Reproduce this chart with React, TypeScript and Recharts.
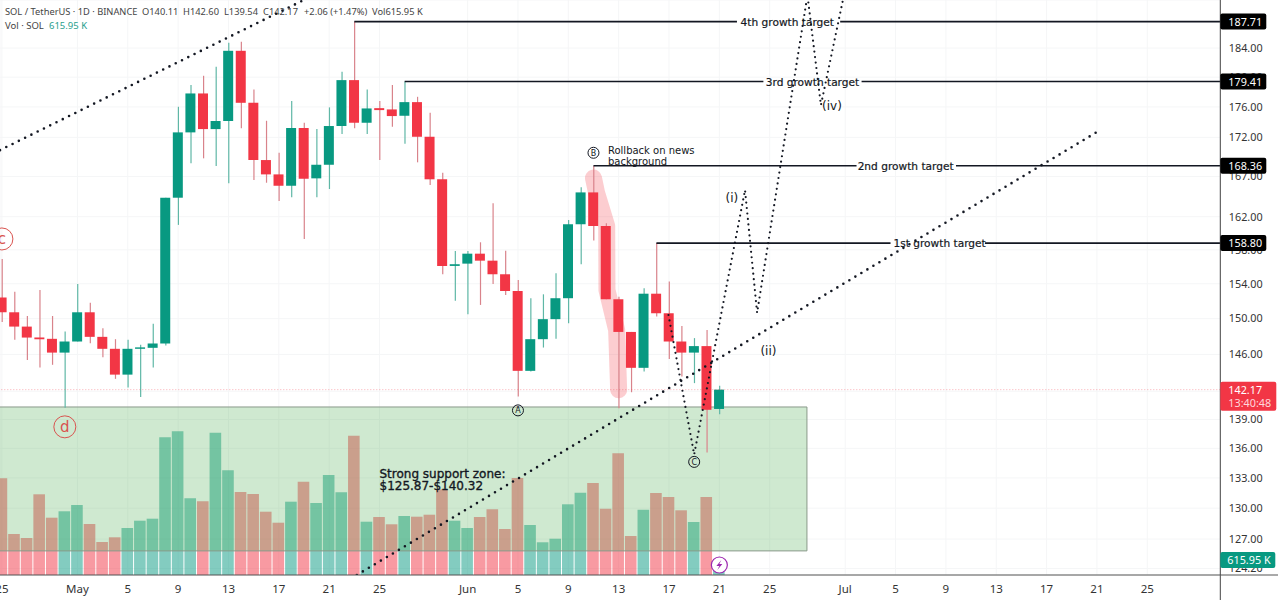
import {
  Bar,
  CartesianGrid,
  Cell,
  ComposedChart,
  Line,
  ReferenceArea,
  ReferenceDot,
  ReferenceLine,
  XAxis,
  YAxis,
} from "recharts";

const UP = "#089981";
const DOWN = "#F23645";
const INK = "#131722";
const FONT = "'DejaVu Sans', sans-serif";
const AXIS_FONT = "'Noto Sans', sans-serif";

// daily candles, first one is Apr 25
const opens = [152.41, 150.72, 149.1, 147.88, 147.73, 146.2, 147.43, 150.72, 147.95, 146.62, 143.79, 146.62, 146.73, 147.21, 164.34, 172.65, 177.8, 173.08, 174.14, 183.62, 176.55, 169.08, 167.26, 165.83, 173.22, 166.76, 168.48, 173.48, 179.6, 173.91, 175.84, 175.67, 174.83, 176.64, 172.08, 166.64, 156.09, 156.36, 157.54, 156.71, 155.11, 153.16, 144.2, 147.69, 149.94, 152.33, 161.08, 165.0, 160.87, 152.21, 148.5, 144.53, 152.85, 150.61, 147.43, 146.2, 146.92, 140.11];
const highs = [156.9, 153.08, 150.3, 153.28, 150.3, 148.54, 153.98, 151.82, 148.92, 147.69, 147.62, 147.06, 149.41, 164.34, 176.02, 178.93, 180.19, 181.41, 184.73, 184.87, 178.34, 174.17, 170.01, 176.78, 173.91, 173.08, 175.94, 180.73, 187.71, 178.34, 176.78, 178.93, 179.41, 177.35, 175.23, 167.47, 157.86, 157.86, 158.9, 163.65, 157.9, 154.44, 152.33, 152.78, 155.22, 161.6, 165.63, 168.36, 161.2, 152.51, 148.5, 153.48, 158.8, 154.25, 149.18, 147.81, 148.73, 142.6];
const lows = [149.63, 147.62, 145.4, 144.56, 144.86, 140.23, 147.43, 147.25, 145.7, 143.33, 142.39, 141.37, 144.56, 146.98, 161.0, 168.66, 169.3, 168.32, 166.13, 173.18, 166.55, 166.21, 163.93, 164.39, 159.3, 164.39, 165.42, 172.43, 173.18, 172.43, 169.08, 173.39, 171.18, 168.79, 165.92, 155.11, 152.05, 150.49, 151.56, 153.98, 152.7, 141.43, 144.12, 146.76, 147.73, 149.49, 156.29, 159.1, 152.21, 140.19, 141.89, 144.12, 150.23, 145.5, 143.58, 142.87, 135.58, 139.54];
const closes = [150.72, 149.1, 147.87, 147.68, 146.2, 147.43, 150.72, 147.95, 146.62, 143.79, 146.62, 146.78, 147.21, 164.34, 172.65, 177.8, 173.08, 174.14, 183.62, 176.55, 169.08, 167.26, 165.83, 173.22, 166.71, 168.48, 173.48, 179.6, 173.91, 175.8, 175.58, 174.79, 176.64, 172.08, 166.64, 156.09, 156.29, 157.54, 156.71, 155.11, 153.16, 144.2, 147.69, 149.94, 152.33, 161.08, 165.0, 160.87, 152.21, 148.5, 144.53, 152.85, 150.61, 147.43, 146.2, 146.92, 140.02, 142.17];
const volumes = [3970, 1684, 1519, 3314, 2353, 2616, 2874, 2094, 1355, 1548, 1930, 2230, 2312, 5654, 5900, 3149, 3026, 5843, 4299, 3408, 3326, 2599, 2147, 3010, 3831, 2956, 4106, 3396, 5720, 2188, 2381, 2082, 2423, 2394, 2476, 3519, 2230, 1930, 2381, 2698, 1889, 3983, 2053, 1343, 1490, 2903, 3379, 3778, 2722, 4997, 1601, 2681, 3367, 3203, 2657, 2176, 3203, 616];

const candles = opens.map((open, i) => ({
  day: i,
  body: [Math.min(open, closes[i]), Math.max(open, closes[i])],
  wick: [lows[i], highs[i]],
  volume: volumes[i],
  up: closes[i] >= open,
}));

const dayTicks = [0, 6, 10, 14, 18, 22, 26, 30, 37, 41, 45, 49, 53, 57, 61, 67, 71, 75, 79, 83, 87, 91];
const dayTickLabels = ["25", "May", "5", "9", "13", "17", "21", "25", "Jun", "5", "9", "13", "17", "21", "25", "Jul", "5", "9", "13", "17", "21", "25"];
const priceTicks = [124.2, 127, 130, 133, 136, 139, 142, 146, 150, 154, 158, 162, 167, 172, 176, 180, 184];

const DAY_DOMAIN = [-0.151, 96.8];
const PRICE_DOMAIN = [123.6, 190.8];
const VOLUME_DOMAIN = [0, 23610];

// drawn tools
const upperTrend = [{ day: -0.15, price: 170.35 }, { day: 27.2, price: 193.7 }];
const supportTrend = [{ day: 28.2, price: 123.6 }, { day: 86.9, price: 172.6 }];
const wave = [
  { day: 52.96, price: 150.41 },
  { day: 55.0, price: 135.38 },
  { day: 59.04, price: 165.29 },
  { day: 60.0, price: 150.65 },
  { day: 64.0, price: 191.5 },
  { day: 65.07, price: 176.24 },
  { day: 66.98, price: 192.2 },
];
const rollbackBrush = [
  { day: 47.0, price: 166.8 },
  { day: 47.25, price: 164.92 },
  { day: 48.05, price: 160.87 },
  { day: 48.07, price: 153.28 },
  { day: 48.84, price: 148.73 },
  { day: 49.0, price: 142.15 },
];

const targets = [
  { price: 187.71, from: 28, gapFrom: 58.4, mid: 62.4, gapTo: 66.6, label: "4th growth target" },
  { price: 179.41, from: 32, gapFrom: 60.5, mid: 64.4, gapTo: 68.3, label: "3rd growth target" },
  { price: 168.36, from: 47, gapFrom: 67.9, mid: 71.8, gapTo: 75.8, label: "2nd growth target" },
  { price: 158.8, from: 52, gapFrom: 70.6, mid: 74.5, gapTo: 78.1, label: "1st growth target" },
];

const redMarks = [
  { day: 0, price: 159.3, label: "c" },
  { day: 5, price: 138.23, label: "d" },
];
const blackMarks = [
  { day: 41, price: 139.96, label: "A" },
  { day: 47, price: 170.01, label: "B" },
  { day: 55, price: 134.62, label: "C" },
];
const waveLabels = [
  { day: 58.0, price: 164.3, label: "(i)" },
  { day: 60.9, price: 146.4, label: "(ii)" },
  { day: 65.95, price: 176.1, label: "(iv)" },
];

const headerItems = [
  { x: 5, text: "SOL / TetherUS · 1D · BINANCE" },
  { x: 142, text: "O140.11" },
  { x: 183, text: "H142.60" },
  { x: 224, text: "L139.54" },
  { x: 263, text: "C142.17" },
  { x: 304, text: "+2.06 (+1.47%)" },
  { x: 372, text: "Vol615.95 K" },
];

const axes = { xAxisId: "main", yAxisId: "price" };
const lineAxes = { xAxisId: "line", yAxisId: "price" };
const TOP = 2000;

const PriceTag = ({ cx, cy, text }: any) => (
  <g>
    <rect x={cx} y={cy - 8} width={46} height={16} rx={2} fill="#000" />
    <text x={cx + 8} y={cy + 4} fontSize={10.8} fill="#fff" fontFamily={AXIS_FONT}>{text}</text>
  </g>
);

const CircleMark = ({ cx, cy, r, color, label, size }: any) => (
  <g>
    <circle cx={cx} cy={cy} r={r} fill="none" stroke={color} strokeWidth={1} />
    <text x={cx} y={cy + size * 0.36} textAnchor="middle" fontSize={size} fill={color} fontFamily={FONT}>{label}</text>
  </g>
);

const Note = ({ cx, cy, lines, size, lineHeight, heavy }: any) => (
  <g>
    {lines.map((line: string, i: number) => (
      <text key={line} x={cx} y={cy + i * lineHeight} fontSize={size} fill={INK} stroke={heavy ? INK : "none"} strokeWidth={0.35} fontFamily={FONT}>{line}</text>
    ))}
  </g>
);

export default function App() {
  return (
    <div style={{ position: "absolute", left: 0, top: 0, width: 1280, height: 600, overflow: "hidden", background: "#fff" }}>
      <ComposedChart width={1280} height={600} data={candles} margin={{ top: 0, right: 0, bottom: 0, left: 0 }}>
        <CartesianGrid {...axes} stroke="#f5f6f7" />
        <XAxis xAxisId="wick" dataKey="day" type="number" domain={DAY_DOMAIN} allowDataOverflow hide height={0} />
        <XAxis xAxisId="vol" dataKey="day" type="number" domain={DAY_DOMAIN} allowDataOverflow hide height={0} />
        <XAxis xAxisId="line" dataKey="day" type="number" domain={DAY_DOMAIN} allowDataOverflow hide height={0} />
        <XAxis
          xAxisId="main"
          dataKey="day"
          type="number"
          domain={DAY_DOMAIN}
          allowDataOverflow
          ticks={dayTicks}
          interval={0}
          height={25}
          tickLine={false}
          tickMargin={4}
          axisLine={{ stroke: "#555" }}
          tick={{ fontSize: 11.5, fill: "#333", fontFamily: AXIS_FONT }}
          tickFormatter={(d: number) => dayTickLabels[dayTicks.indexOf(d)]}
        />
        <YAxis yAxisId="vol" domain={VOLUME_DOMAIN} allowDataOverflow hide />
        <YAxis
          yAxisId="price"
          orientation="right"
          scale="log"
          domain={PRICE_DOMAIN}
          allowDataOverflow
          ticks={priceTicks}
          interval={0}
          width={59.7}
          tickLine={false}
          tickMargin={2.5}
          axisLine={{ stroke: "#444" }}
          tick={{ fontSize: 10.8, fill: "#333", fontFamily: AXIS_FONT }}
          tickFormatter={(v: number) => v.toFixed(2)}
        />

        <Bar xAxisId="vol" yAxisId="vol" dataKey="volume" barSize={11.6} isAnimationActive={false} zIndex={10}>
          {candles.map((c) => (
            <Cell key={c.day} fill={c.up ? "rgba(8,153,129,0.5)" : "rgba(242,54,69,0.5)"} />
          ))}
        </Bar>
        <ReferenceArea
          {...axes}
          x1={-1}
          x2={63.96}
          y1={125.87}
          y2={140.32}
          ifOverflow="visible"
          fill="rgb(76,175,80)"
          fillOpacity={0.27}
          stroke="#8a9a8a"
          zIndex={20}
        />
        <ReferenceLine {...axes} y={142.17} stroke="rgba(242,54,69,0.4)" strokeDasharray="1 2" />

        <Line {...lineAxes} data={rollbackBrush} dataKey="price" dot={false} activeDot={false} stroke="#F23645" strokeOpacity={0.25} strokeWidth={17} strokeLinecap="round" strokeLinejoin="round" isAnimationActive={false} zIndex={30} />

        <Bar xAxisId="wick" yAxisId="price" dataKey="wick" barSize={1.2} activeBar={false} isAnimationActive={false} zIndex={40}>
          {candles.map((c) => (
            <Cell key={c.day} fill={c.up ? "#5fb7a6" : "#d9838b"} />
          ))}
        </Bar>
        <Bar {...axes} dataKey="body" barSize={10} activeBar={false} isAnimationActive={false} zIndex={50}>
          {candles.map((c) => (
            <Cell key={c.day} fill={c.up ? UP : DOWN} />
          ))}
        </Bar>

        {targets.map((t) => (
          <ReferenceLine key={t.label + "a"} {...axes} segment={[{ x: t.from, y: t.price }, { x: t.gapFrom, y: t.price }]} stroke={INK} strokeWidth={1.6} />
        ))}
        {targets.map((t) => (
          <ReferenceLine key={t.label + "b"} {...axes} segment={[{ x: t.gapTo, y: t.price }, { x: DAY_DOMAIN[1], y: t.price }]} stroke={INK} strokeWidth={1.6} />
        ))}

        <Line {...lineAxes} data={upperTrend} dataKey="price" dot={false} activeDot={false} stroke={INK} strokeWidth={2.6} strokeDasharray="0 7" strokeLinecap="round" isAnimationActive={false} />
        <Line {...lineAxes} data={supportTrend} dataKey="price" dot={false} activeDot={false} stroke={INK} strokeWidth={2.6} strokeDasharray="0 7" strokeLinecap="round" isAnimationActive={false} />
        <Line {...lineAxes} data={wave} dataKey="price" dot={false} activeDot={false} stroke={INK} strokeWidth={2.2} strokeDasharray="0 5.5" strokeLinecap="round" isAnimationActive={false} />

        {targets.map((t) => (
          <ReferenceDot
            key={t.label}
            {...axes}
            x={t.mid}
            y={t.price}
            ifOverflow="visible"
            zIndex={TOP}
            shape={(p: any) => (
              <text x={p.cx} y={p.cy + 4} textAnchor="middle" fontSize={10.6} fill={INK} stroke={INK} strokeWidth={0.2} fontFamily={FONT}>{t.label}</text>
            )}
          />
        ))}
        {redMarks.map((m) => (
          <ReferenceDot key={m.label} {...axes} x={m.day} y={m.price} ifOverflow="visible" zIndex={TOP} shape={(p: any) => <CircleMark cx={p.cx} cy={p.cy} r={11} size={15} color="#d9534f" label={m.label} />} />
        ))}
        {blackMarks.map((m) => (
          <ReferenceDot key={m.label} {...axes} x={m.day} y={m.price} ifOverflow="visible" zIndex={TOP} shape={(p: any) => <CircleMark cx={p.cx} cy={p.cy} r={5.5} size={8} color={INK} label={m.label} />} />
        ))}
        {waveLabels.map((m) => (
          <ReferenceDot key={m.label} {...axes} x={m.day} y={m.price} ifOverflow="visible" zIndex={TOP} shape={(p: any) => (
            <text x={p.cx} y={p.cy + 4} textAnchor="middle" fontSize={12} fill={INK} fontFamily={FONT}>{m.label}</text>
          )} />
        ))}
        <ReferenceDot {...axes} x={48.15} y={169.9} ifOverflow="visible" zIndex={TOP} shape={(p: any) => (
          <Note cx={p.cx} cy={p.cy} lines={["Rollback on news", "background"]} size={10} lineHeight={11} />
        )} />
        <ReferenceDot {...axes} x={30} y={133.0} ifOverflow="visible" zIndex={TOP} shape={(p: any) => (
          <Note cx={p.cx} cy={p.cy} lines={["Strong support zone:", "$125.87-$140.32"]} size={12} lineHeight={12.5} heavy />
        )} />

        {targets.map((t) => (
          <ReferenceDot key={t.label + "tag"} {...axes} x={DAY_DOMAIN[1]} y={t.price} ifOverflow="visible" zIndex={TOP} shape={(p: any) => <PriceTag cx={p.cx} cy={p.cy} text={t.price.toFixed(2)} />} />
        ))}
        <ReferenceDot {...axes} x={DAY_DOMAIN[1]} y={142.17} ifOverflow="visible" zIndex={TOP} shape={(p: any) => (
          <g>
            <rect x={p.cx} y={p.cy - 8} width={56} height={29} rx={2} fill={DOWN} />
            <text x={p.cx + 8} y={p.cy + 4} fontSize={10.8} fill="#fff" fontFamily={AXIS_FONT}>142.17</text>
            <text x={p.cx + 8} y={p.cy + 17} fontSize={10.8} fill="#ffd6da" fontFamily={AXIS_FONT}>13:40:48</text>
          </g>
        )} />
        <ReferenceDot xAxisId="main" yAxisId="vol" x={DAY_DOMAIN[1]} y={615.95} ifOverflow="visible" zIndex={TOP} shape={(p: any) => (
          <g>
            <rect x={p.cx} y={p.cy - 8} width={55} height={16} rx={2} fill={UP} />
            <text x={p.cx + 7} y={p.cy + 4} fontSize={10.8} fill="#fff" fontFamily={AXIS_FONT}>615.95 K</text>
          </g>
        )} />
        <ReferenceDot xAxisId="main" yAxisId="vol" x={57} y={410} ifOverflow="visible" zIndex={TOP} shape={(p: any) => (
          <g>
            <circle cx={p.cx} cy={p.cy} r={8} fill="#fff" stroke="#9c27b0" strokeWidth={1.2} />
            <path d={`M${p.cx + 2} ${p.cy - 5} L${p.cx - 3} ${p.cy + 1} L${p.cx} ${p.cy + 1} L${p.cx - 2} ${p.cy + 5} L${p.cx + 3} ${p.cy - 1} L${p.cx} ${p.cy - 1} Z`} fill="#9c27b0" />
          </g>
        )} />

        {headerItems.map((h) => (
          <text key={h.text} x={h.x} y={15} fontSize={9.3} fill="#444" fontFamily={AXIS_FONT}>{h.text}</text>
        ))}
        <text x={5} y={29} fontSize={9.5} fill="#444" fontFamily={AXIS_FONT}>Vol · SOL</text>
        <text x={49} y={29} fontSize={9.5} fill="#2aa08e" fontFamily={AXIS_FONT}>615.95 K</text>

        <line x1={1220.3} x2={1220.3} y1={575} y2={600} stroke="#444" />
        <line x1={1220.3} x2={1278} y1={575} y2={575} stroke="#555" />
      </ComposedChart>
    </div>
  );
}
